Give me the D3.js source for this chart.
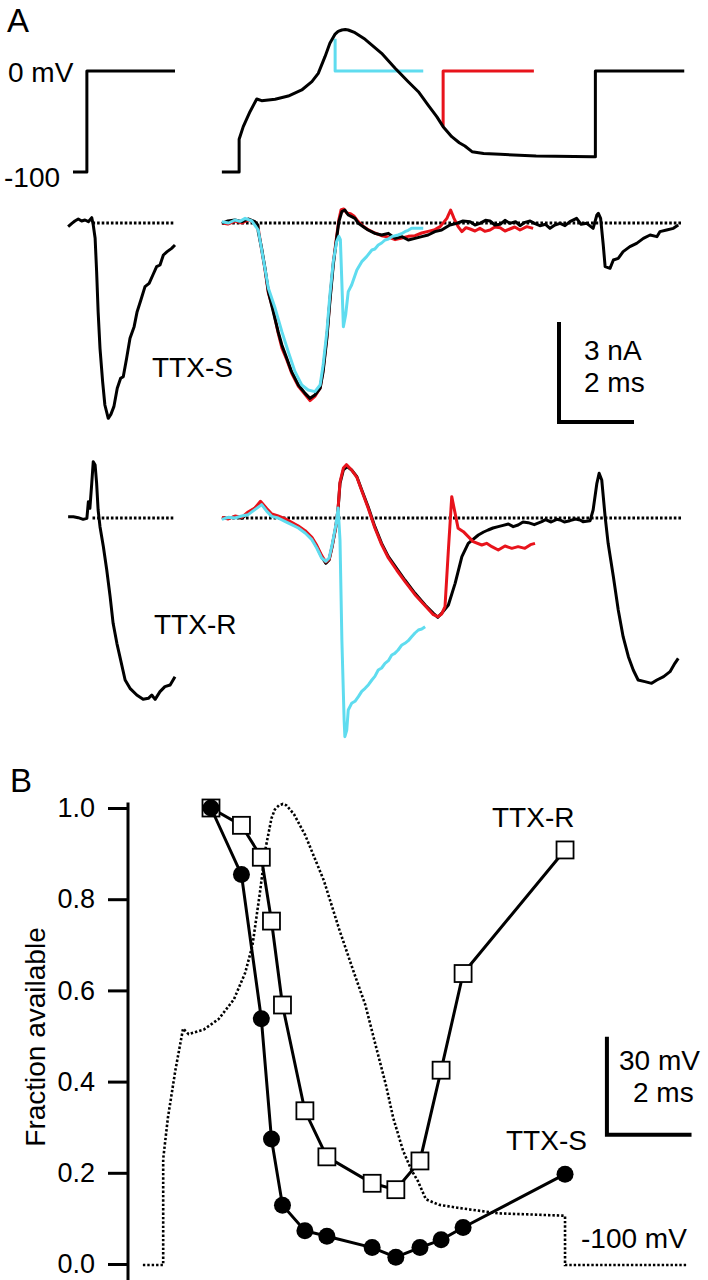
<!DOCTYPE html>
<html>
<head>
<meta charset="utf-8">
<script src="https://cdn.jsdelivr.net/npm/d3@7"></script>
<style>
  body { margin: 0; background: #fff; }
  text { font-family: "Liberation Sans", Arial, sans-serif; fill: #000; }
</style>
</head>
<body>
<svg id="fig"></svg>
<script>
// ---- data: [time (ms), value] ----

// command voltage (mV)
const prepulseV = [[-4.0,-100],[-3.63,-100],[-3.63,0],[-1.28,0]];
const apWave = [[-0.03,-100],[0.43,-100],[0.43,-67.6],[0.54,-55.1],[0.72,-40.3],[0.90,-27.7],[1.03,-29.4],
  [1.39,-28.0],[1.74,-24.8],[2.10,-18.8],[2.37,-10.6],[2.54,-2.3],[2.72,14.2],[2.85,27.4],[2.99,36.6],
  [3.07,39.3],[3.17,40.6],[3.26,41.0],[3.34,40.6],[3.52,37.9],[3.79,31.4],[4.23,17.5],[4.59,2.7],[4.94,-10.6],
  [5.21,-20.5],[5.47,-33.7],[5.70,-45.2],[5.87,-55.1],[6.10,-65.0],[6.30,-71.0],[6.45,-74.3],[6.64,-79.9],
  [6.95,-81.6],[7.39,-82.5],[8.35,-84.2],[9.87,-84.9]];
const apTailA = [[9.93,-85],[9.93,0],[12.3,0]];
const apTailB = [[9.93,-85],[9.93,-100],[12.83,-100]];
const cyanStepV = [[2.99,32],[2.99,0],[5.34,0]];
const redStepV = [[5.87,-55],[5.87,0],[8.29,0]];

// baseline segments (zero current)
const zeroSegs = [[-3.48,-1.32],[0,12.24]];

// TTX-S current (nA)
const ttxSLeft = [[-4.13,-0.11],[-4.03,-0.01],[-3.95,0.06],[-3.86,0.12],[-3.77,0.06],[-3.68,0.09],[-3.59,0.04],
  [-3.50,0.16],[-3.46,-0.06],[-3.41,-0.46],[-3.37,-1.46],[-3.33,-2.66],[-3.28,-3.76],[-3.21,-4.76],[-3.15,-5.46],
  [-3.06,-5.86],[-2.99,-5.74],[-2.91,-5.51],[-2.82,-4.96],[-2.73,-4.66],[-2.66,-4.61],[-2.57,-4.06],[-2.48,-3.46],
  [-2.37,-3.11],[-2.29,-2.66],[-2.19,-2.31],[-2.08,-1.91],[-1.97,-1.81],[-1.87,-1.56],[-1.77,-1.31],[-1.68,-1.26],
  [-1.59,-0.96],[-1.49,-0.86],[-1.37,-0.76],[-1.28,-0.66]];
const ttxSBlack = [[-0.03,-0.01],[0.13,0.06],[0.32,0.09],[0.51,0.04],[0.67,0.12],[0.85,0.04],[0.93,-0.06],
  [0.94,-0.26],[1.03,-0.76],[1.12,-1.36],[1.21,-2.06],[1.34,-2.66],[1.47,-3.26],[1.57,-3.66],[1.70,-4.06],
  [1.83,-4.46],[2.01,-4.86],[2.19,-5.11],[2.32,-5.26],[2.45,-5.16],[2.59,-4.96],[2.67,-4.46],[2.77,-3.46],
  [2.85,-2.36],[2.94,-1.26],[3.03,-0.46],[3.09,0.04],[3.17,0.34],[3.25,0.39],[3.34,0.24],[3.43,0.19],
  [3.52,0.14],[3.61,-0.01],[3.74,-0.11],[3.87,-0.21],[4.05,-0.31],[4.23,-0.36],[4.41,-0.31],[4.59,-0.46],
  [4.77,-0.41],[4.94,-0.51],[5.12,-0.46],[5.30,-0.41],[5.47,-0.36],[5.65,-0.26],[5.83,-0.21],[6.05,-0.06],
  [6.23,-0.01],[6.40,0.06],[6.59,0.04],[6.72,-0.06],[6.85,-0.01],[7.0,0.08],[7.12,0.06],[7.25,-0.06],
  [7.39,-0.04],[7.52,0.08],[7.65,-0.01],[7.80,0.04],[7.92,-0.08],[8.05,0.02],[8.19,0.06],[8.32,-0.02],
  [8.45,-0.08],[8.6,-0.04],[8.72,-0.16],[8.85,-0.06],[8.99,-0.01],[9.12,-0.08],[9.25,0.04],[9.43,0.14],
  [9.55,-0.04],[9.70,-0.01],[9.87,-0.16],[9.97,0.24],[10.01,0.29],[10.07,0.14],[10.14,-0.66],[10.19,-1.31],
  [10.32,-1.36],[10.41,-1.11],[10.54,-1.06],[10.67,-0.86],[10.85,-0.71],[11.03,-0.61],[11.21,-0.46],
  [11.39,-0.36],[11.57,-0.41],[11.65,-0.26],[11.83,-0.21],[12.01,-0.16],[12.14,-0.06]];
const ttxSRed = [[-0.03,0.0],[0.13,-0.03],[0.32,0.06],[0.51,0.0],[0.67,0.09],[0.85,0.03],[0.93,-0.1],
  [1.03,-0.8],[1.12,-1.4],[1.21,-2.1],[1.34,-2.6],[1.47,-3.3],[1.57,-3.75],[1.70,-4.1],[1.83,-4.5],[2.01,-4.9],
  [2.19,-5.15],[2.32,-5.33],[2.45,-5.2],[2.59,-4.95],[2.67,-4.4],[2.77,-3.4],[2.85,-2.3],[2.94,-1.2],
  [3.03,-0.4],[3.09,0.1],[3.15,0.4],[3.22,0.42],[3.3,0.3],[3.4,0.28],[3.5,0.2],[3.6,0.05],[3.74,-0.1],
  [3.87,-0.2],[4.05,-0.3],[4.23,-0.38],[4.41,-0.42],[4.59,-0.5],[4.77,-0.45],[4.94,-0.4],[5.12,-0.38],
  [5.30,-0.3],[5.47,-0.25],[5.65,-0.2],[5.79,-0.11],[5.97,0.14],[6.07,0.39],[6.16,0.14],[6.27,-0.11],
  [6.37,-0.26],[6.48,-0.14],[6.59,-0.18],[6.72,-0.24],[6.85,-0.16],[6.98,-0.25],[7.12,-0.21],[7.25,-0.12],
  [7.39,-0.14],[7.52,-0.24],[7.65,-0.18],[7.78,-0.12],[7.92,-0.21],[8.10,-0.11],[8.27,-0.16]];
const ttxSCyan = [[-0.03,0.04],[0.15,0.0],[0.32,0.09],[0.45,0.05],[0.59,0.14],[0.77,0.06],[0.94,-0.21],
  [1.21,-1.96],[1.39,-2.56],[1.57,-3.26],[1.74,-3.86],[1.92,-4.46],[2.10,-4.86],[2.27,-5.01],[2.45,-5.06],
  [2.59,-4.86],[2.67,-4.26],[2.77,-3.26],[2.85,-2.16],[2.94,-1.16],[3.03,-0.56],[3.09,-0.4],[3.13,-0.5],
  [3.17,-1.8],[3.21,-3.11],[3.27,-2.76],[3.34,-2.06],[3.43,-1.86],[3.57,-1.41],[3.70,-1.16],[3.83,-1.01],
  [3.97,-0.81],[4.05,-0.78],[4.14,-0.66],[4.23,-0.6],[4.32,-0.51],[4.41,-0.48],[4.50,-0.41],[4.67,-0.36],
  [4.76,-0.32],[4.85,-0.26],[4.94,-0.22],[5.03,-0.16],[5.21,-0.16],[5.34,-0.16]];

// TTX-R current (nA)
const ttxRLeft = [[-4.13,0.04],[-3.99,0.04],[-3.86,0.01],[-3.73,-0.04],[-3.63,-0.01],[-3.59,0.49],[-3.55,0.29],
  [-3.50,1.04],[-3.46,1.69],[-3.41,1.59],[-3.37,1.04],[-3.33,0.24],[-3.28,-0.26],[-3.19,-0.86],[-3.10,-1.56],
  [-3.01,-2.36],[-2.93,-3.16],[-2.83,-3.76],[-2.75,-4.16],[-2.61,-4.86],[-2.48,-5.11],[-2.30,-5.31],[-2.13,-5.44],
  [-1.99,-5.41],[-1.90,-5.31],[-1.81,-5.44],[-1.68,-5.21],[-1.55,-5.06],[-1.41,-5.01],[-1.28,-4.76]];
const ttxRBlack = [[-0.03,-0.01],[0.14,-0.01],[0.32,0.04],[0.50,-0.01],[0.67,0.14],[0.85,0.29],[1.03,0.44],
  [1.17,0.24],[1.30,0.09],[1.47,0.04],[1.65,-0.06],[1.83,-0.16],[2.01,-0.26],[2.19,-0.41],[2.37,-0.61],
  [2.50,-0.86],[2.63,-1.16],[2.74,-1.36],[2.83,-1.26],[2.91,-0.86],[3.01,-0.26],[3.07,0.29],[3.12,1.04],
  [3.21,1.44],[3.31,1.54],[3.43,1.44],[3.57,1.24],[3.70,0.84],[3.87,0.34],[4.05,-0.26],[4.23,-0.76],
  [4.41,-1.16],[4.63,-1.51],[4.85,-1.86],[5.12,-2.26],[5.39,-2.61],[5.61,-2.86],[5.73,-2.98],[5.83,-2.86],
  [6.01,-2.61],[6.19,-1.96],[6.37,-1.16],[6.54,-0.76],[6.81,-0.51],[6.95,-0.42],[7.07,-0.36],[7.2,-0.3],
  [7.34,-0.26],[7.47,-0.22],[7.61,-0.18],[7.74,-0.26],[7.87,-0.21],[8.0,-0.12],[8.14,-0.14],[8.3,-0.2],
  [8.50,-0.11],[8.6,-0.05],[8.75,-0.12],[8.9,-0.04],[8.99,-0.06],[9.1,-0.12],[9.25,-0.08],[9.4,-0.03],
  [9.52,-0.06],[9.6,-0.11],[9.79,-0.08],[9.87,0.24],[9.97,1.04],[10.03,1.34],[10.10,1.14],[10.19,0.04],
  [10.27,-0.76],[10.41,-1.76],[10.54,-2.76],[10.67,-3.56],[10.81,-4.16],[10.94,-4.56],[11.07,-4.86],
  [11.25,-4.91],[11.43,-4.96],[11.57,-4.86],[11.75,-4.76],[11.92,-4.61],[12.05,-4.36],[12.14,-4.21]];
const ttxRRed = [[-0.03,0.02],[0.14,-0.03],[0.32,0.06],[0.5,0.02],[0.67,0.18],[0.85,0.3],[1.0,0.5],[1.17,0.28],
  [1.3,0.12],[1.47,0.06],[1.65,-0.02],[1.83,-0.13],[2.01,-0.24],[2.19,-0.38],[2.37,-0.58],[2.5,-0.82],
  [2.63,-1.12],[2.74,-1.32],[2.83,-1.24],[2.91,-0.84],[3.01,-0.24],[3.07,0.31],[3.12,1.08],[3.21,1.5],
  [3.29,1.6],[3.43,1.44],[3.57,1.22],[3.70,0.82],[3.87,0.3],[4.05,-0.3],[4.23,-0.8],[4.41,-1.2],[4.63,-1.56],
  [4.85,-1.9],[5.12,-2.3],[5.39,-2.63],[5.61,-2.9],[5.73,-2.96],[5.83,-2.88],[5.92,-2.66],[6.01,-0.96],
  [6.10,0.64],[6.19,0.14],[6.27,-0.31],[6.41,-0.41],[6.54,-0.56],[6.67,-0.71],[6.9,-0.81],[7.03,-0.76],
  [7.17,-0.86],[7.34,-0.96],[7.52,-0.84],[7.7,-0.91],[7.87,-0.86],[8.05,-0.91],[8.2,-0.8],[8.32,-0.76]];
const ttxRCyan = [[-0.03,-0.04],[0.14,0.02],[0.32,0.0],[0.5,0.06],[0.67,0.1],[0.85,0.25],[1.03,0.4],[1.17,0.2],
  [1.3,0.05],[1.47,0.0],[1.65,-0.1],[1.83,-0.2],[2.01,-0.3],[2.19,-0.45],[2.37,-0.65],[2.5,-0.9],[2.63,-1.2],
  [2.74,-1.3],[2.83,-1.2],[2.91,-0.8],[3.01,-0.2],[3.07,0.3],[3.12,-0.66],[3.17,-3.66],[3.23,-6.06],
  [3.25,-6.56],[3.30,-6.36],[3.34,-5.76],[3.43,-5.56],[3.52,-5.5],[3.61,-5.36],[3.70,-5.2],[3.79,-5.11],
  [3.88,-5.0],[3.97,-4.86],[4.05,-4.75],[4.14,-4.56],[4.23,-4.5],[4.32,-4.36],[4.41,-4.28],[4.50,-4.11],
  [4.58,-4.06],[4.67,-3.96],[4.76,-3.82],[4.85,-3.76],[4.94,-3.68],[5.03,-3.56],[5.12,-3.45],[5.21,-3.36],
  [5.30,-3.33],[5.39,-3.26]];

// panel B: fraction available vs step time
const stepTimes = [1.56, 2.28, 2.75, 2.99, 3.25, 3.78, 4.30, 5.37, 5.93, 6.50, 7.00, 7.52, 9.93];
const fracR = [1.0, 0.962, 0.892, 0.752, 0.568, 0.336, 0.235, 0.177, 0.163, 0.226, 0.425, 0.637, 0.908];
const fracS = [1.0, 0.854, 0.538, 0.274, 0.129, 0.073, 0.061, 0.036, 0.015, 0.036, 0.053, 0.080, 0.197];
const fracTicks = [0, 0.2, 0.4, 0.6, 0.8, 1.0];

// ---- drawing ----
const width = 708;
const height = 1280;
const black = '#000';
const red = '#e8131b';
const cyan = '#5fdcef';

const svg = d3.select('#fig')
  .attr('width', width)
  .attr('height', height);

// scales
const xA = d3.scaleLinear().domain([0, 12]).range([223, 673]);
const yV = d3.scaleLinear().domain([-100, 0]).range([172, 71]);
const yS = d3.scaleLinear().domain([-6, 0]).range([423, 223]);
const yR = d3.scaleLinear().domain([-6, 0]).range([718, 518]);
const xB = d3.scaleLinear().domain([0, 12]).range([145, 652.6]);
const yVB = d3.scaleLinear().domain([-100, 40]).range([1265, 807.2]);
const yF = d3.scaleLinear().domain([0, 1]).range([1264, 808]);

function trace(data, x, y, color, w) {
  svg.append('path')
    .attr('d', d3.line().x(d => x(d[0])).y(d => y(d[1]))(data))
    .attr('fill', 'none')
    .attr('stroke', color)
    .attr('stroke-width', w || 3)
    .attr('stroke-linejoin', 'round');
}

function label(txt, x, y, size, anchor) {
  return svg.append('text')
    .attr('x', x).attr('y', y)
    .attr('font-size', size || 28)
    .attr('text-anchor', anchor || 'start')
    .text(txt);
}

// --- A: voltage protocol
trace(prepulseV, xA, yV, black);
trace(cyanStepV, xA, yV, cyan);
trace(redStepV, xA, yV, red);
trace(apWave.concat(apTailA), xA, yV, black);

label('A', 7, 32, 33);
label('0 mV', 8, 82);
label('-100', 4, 187);

// --- A: currents
[yS, yR].forEach(y => {
  zeroSegs.forEach(s => {
    svg.append('line')
      .attr('x1', xA(s[0])).attr('x2', xA(s[1]))
      .attr('y1', y(0)).attr('y2', y(0))
      .attr('stroke', black)
      .attr('stroke-width', 3.2)
      .attr('stroke-dasharray', '2.6,2');
  });
});

trace(ttxSLeft, xA, yS, black);
trace(ttxSRed, xA, yS, red);
trace(ttxSBlack, xA, yS, black);
trace(ttxSCyan, xA, yS, cyan);

trace(ttxRLeft, xA, yR, black);
trace(ttxRBlack, xA, yR, black);
trace(ttxRRed, xA, yR, red);
trace(ttxRCyan, xA, yR, cyan);

label('TTX-S', 152, 377);
label('TTX-R', 154, 634);

// scale bar A: 3 nA / 2 ms
const barA = { t: 8.96, i: -5.97 };
svg.append('path')
  .attr('d', d3.line()([
    [xA(barA.t), yS(barA.i + 3)],
    [xA(barA.t), yS(barA.i)],
    [xA(barA.t + 2), yS(barA.i)]
  ]))
  .attr('fill', 'none')
  .attr('stroke', black)
  .attr('stroke-width', 4);
label('3 nA', 584, 360);
label('2 ms', 584, 392);

// --- B
label('B', 10, 792, 33);

const fracAxis = svg.append('g')
  .attr('transform', 'translate(128,0)')
  .call(d3.axisLeft(yF)
    .tickValues(fracTicks)
    .tickFormat(d3.format('.1f'))
    .tickSize(20)
    .tickSizeOuter(0)
    .tickPadding(13));
fracAxis.select('.domain').remove();
fracAxis.selectAll('line').attr('stroke', black).attr('stroke-width', 3);
fracAxis.selectAll('text')
  .attr('font-size', 27)
  .attr('font-family', '"Liberation Sans", Arial, sans-serif')
  .attr('fill', black);
svg.append('line')
  .attr('x1', 128).attr('x2', 128)
  .attr('y1', yF(1.012)).attr('y2', yF(-0.035))
  .attr('stroke', black)
  .attr('stroke-width', 3);

svg.append('text')
  .attr('transform', 'translate(45,1037) rotate(-90)')
  .attr('text-anchor', 'middle')
  .attr('font-size', 28)
  .text('Fraction available');

// dotted action potential
svg.append('path')
  .attr('d', d3.line().x(d => xB(d[0])).y(d => yVB(d[1]))(
    [[-0.05, -100]].concat(apWave.slice(1), apTailB)))
  .attr('fill', 'none')
  .attr('stroke', black)
  .attr('stroke-width', 2.6)
  .attr('stroke-dasharray', '2.4,2');

const ptsR = stepTimes.map((t, i) => [t, fracR[i]]);
const ptsS = stepTimes.map((t, i) => [t, fracS[i]]);
const fracLine = d3.line().x(d => xB(d[0])).y(d => yF(d[1]));

svg.append('path')
  .attr('d', fracLine(ptsR))
  .attr('fill', 'none')
  .attr('stroke', black)
  .attr('stroke-width', 3);

svg.selectAll('.sq')
  .data(ptsR)
  .enter().append('rect')
    .attr('class', 'sq')
    .attr('x', d => xB(d[0]) - 8.5)
    .attr('y', d => yF(d[1]) - 8.5)
    .attr('width', 17)
    .attr('height', 17)
    .attr('fill', '#fff')
    .attr('stroke', black)
    .attr('stroke-width', 1.8);

svg.append('path')
  .attr('d', fracLine(ptsS))
  .attr('fill', 'none')
  .attr('stroke', black)
  .attr('stroke-width', 3);

svg.selectAll('.dot')
  .data(ptsS)
  .enter().append('circle')
    .attr('class', 'dot')
    .attr('cx', d => xB(d[0]))
    .attr('cy', d => yF(d[1]))
    .attr('r', 8.5)
    .attr('fill', black);

label('TTX-R', 492, 827);
label('TTX-S', 506, 1150);
label('-100 mV', 581, 1248);

// scale bar B: 30 mV / 2 ms
const barB = { t: 10.92, v: -60.2 };
svg.append('path')
  .attr('d', d3.line()([
    [xB(barB.t), yVB(barB.v + 30)],
    [xB(barB.t), yVB(barB.v)],
    [xB(barB.t + 2), yVB(barB.v)]
  ]))
  .attr('fill', 'none')
  .attr('stroke', black)
  .attr('stroke-width', 4);
label('30 mV', 619, 1070);
label('2 ms', 633, 1102);
</script>
</body>
</html>
